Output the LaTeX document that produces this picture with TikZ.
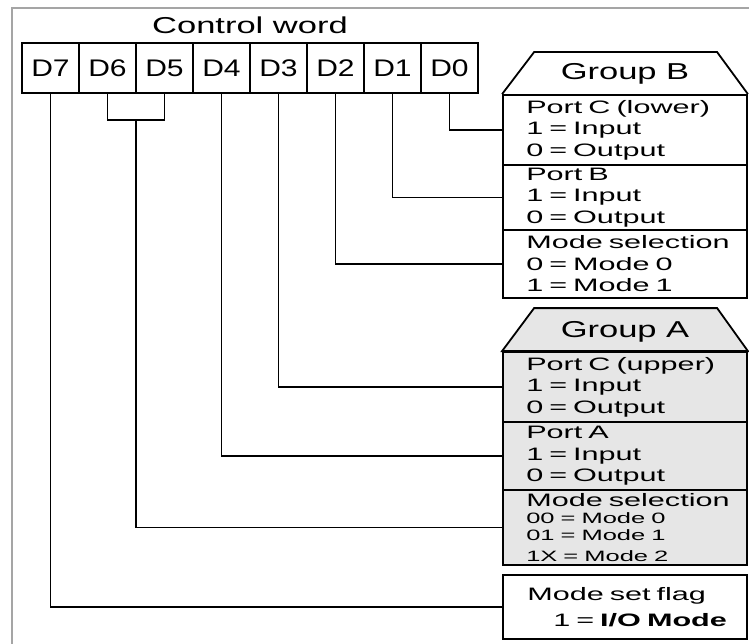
\documentclass[tikz,border=0pt]{standalone}
\usepackage{fontspec}
\newfontfamily\bodyfont[FakeStretch=1.7]{Liberation Sans}
\newfontfamily\headfont[FakeStretch=1.5]{Liberation Sans}
\newfontfamily\bitfont[FakeStretch=1.25]{Liberation Sans}
\usetikzlibrary{calc}
\definecolor{framegray}{RGB}{165,165,165}
\definecolor{shade}{RGB}{230,230,230}

\begin{document}
\begin{tikzpicture}[x=1pt,y=-1pt,
  wire/.style={line width=1.8pt,black},
  bitbox/.style={draw,line width=1.8pt,minimum width=57pt,minimum height=50pt,inner sep=0pt,font=\bitfont\fontsize{24}{24}\selectfont},
  sect/.style={draw,line width=1.8pt,minimum width=244pt,inner sep=0pt},
  hdr/.style={draw,line width=1.8pt,line join=miter},
  body/.style={anchor=west,align=left,text width=215pt,inner sep=0pt,font=\bodyfont\fontsize{18}{21.5}\selectfont},
  head/.style={inner sep=0pt,font=\headfont\fontsize{23}{23}\selectfont}]
\useasboundingbox (0,0) rectangle (749,644);
\draw[framegray,line width=2pt] (12,644) -- (12,8) -- (749,8);

% control word
\node[head] (title) at (250,25) {Control word};
\foreach \b [count=\i from 0] in {7,...,0}
  \node[bitbox] (d\b) at (50.5+57*\i,68) {D\b};

% group B
\node[sect,minimum height=70pt] (pcl) at (625,130) {};
\node[sect,minimum height=65pt] (pb) at (625,197.5) {};
\node[sect,minimum height=68pt] (mb) at (625,264) {};
\draw[hdr] (pcl.north west) -- ++(32,-42) -- ++(183,0) -- (pcl.north east);
\node[head] (grpb) at (625,74) {Group B};
\node[body] (pclt) at ([xshift=24pt]pcl.west) {Port C (lower)\\1 = Input\\0 = Output};
\node[body] (pbt) at ([xshift=24pt]pb.west) {Port B\\1 = Input\\0 = Output};
\node[body] (mbt) at ([xshift=24pt]mb.west) {Mode selection\\0 = Mode 0\\1 = Mode 1};

% group A
\node[sect,fill=shade,minimum height=70pt] (pcu) at (625,387) {};
\node[sect,fill=shade,minimum height=68pt] (pa) at (625,456) {};
\node[sect,fill=shade,minimum height=75pt] (ma) at (625,527.5) {};
\draw[hdr,fill=shade] (pcu.north west) -- ++(32,-43) -- ++(183,0) -- (pcu.north east) -- cycle;
\node[head] (grpa) at (625,332) {Group A};
\node[body] (pcut) at ([xshift=24pt]pcu.west) {Port C (upper)\\1 = Input\\0 = Output};
\node[body] (pat) at ([xshift=24pt]pa.west) {Port A\\1 = Input\\0 = Output};
\node[body] (mat) at ([xshift=24pt]ma.west) {Mode selection\\\fontsize{15}{17}\selectfont 00 = Mode 0\\01 = Mode 1\\1X = Mode 2};

% mode set flag
\node[sect,minimum height=64pt] (flag) at (625,607) {};
\node[body,font=\bodyfont\fontsize{18}{26}\selectfont] (flagt) at ([xshift=25pt]flag.west) {Mode set flag\\\hspace*{26pt}1 = \textbf{I/O Mode}};

% connectors
\draw[wire] (d0.south) |- (pcl.west);
\draw[wire] (d1.south) |- (pb.west);
\draw[wire] (d2.south) |- (mb.west);
\draw[wire] (d3.south) |- (pcu.west);
\draw[wire] (d4.south) |- (pa.west);
\draw[wire] (d6.south) -- ++(0,26) coordinate (bl) -- (bl -| d5.south) coordinate (br) -- (d5.south);
\draw[wire] ($(bl)!0.5!(br)$) coordinate (bm) |- (ma.west);
\draw[wire] (d7.south) |- (flag.west);
\end{tikzpicture}
\end{document}
